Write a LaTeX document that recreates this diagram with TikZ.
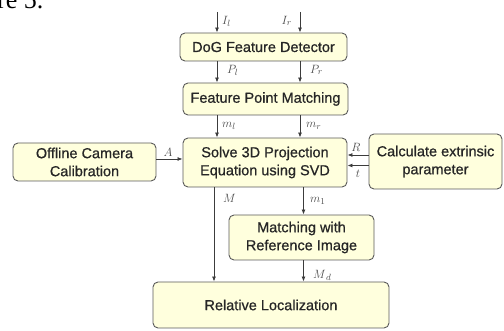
\documentclass[tikz,border=0pt]{standalone}
\usepackage{fontspec}
\setmainfont{Liberation Sans}[FakeBold=0.7]
\newfontfamily\capfont{Liberation Serif}
\usetikzlibrary{arrows.meta,calc}
\definecolor{boxfill}{RGB}{255,255,221}
\definecolor{boxline}{RGB}{90,90,90}
\definecolor{arrline}{RGB}{60,60,60}
\tikzset{
  blk/.style={draw=boxline, line width=0.9pt, fill=boxfill, rounded corners=5pt,
    align=center, font=\fontsize{14.5}{18}\selectfont, inner sep=0pt, text=black!85},
  arr/.style={draw=arrline, line width=0.8pt, -{Latex[length=5pt,width=4pt]}},
  lab/.style={font=\fontsize{12.5}{14}\selectfont, inner sep=1pt, text=black!70}
}
\begin{document}
\begin{tikzpicture}[x=1pt,y=-1pt]
\useasboundingbox (0,0) rectangle (504,331);
\clip (0,0) rectangle (504,331);
\node[font=\capfont\fontsize{26}{26}\selectfont, anchor=base west, inner sep=0pt] (cap) at (-3,9) {re 5.};

\node[blk, minimum width=167pt, minimum height=28pt] (dog) at (263.5,47) {DoG Feature Detector};
\node[blk, minimum width=165pt, minimum height=32pt] (fpm) at (265.5,99) {Feature Point Matching};
\node[blk, minimum width=164pt, minimum height=49pt] (svd) at (265,162.5) {Solve 3D Projection\\Equation using SVD};
\node[blk, minimum width=143pt, minimum height=38pt] (cal) at (84.5,162) {Offline Camera\\Calibration};
\node[blk, minimum width=133pt, minimum height=55pt] (ext) at (435.5,161.5) {Calculate extrinsic\\parameter};
\node[blk, minimum width=145pt, minimum height=45pt] (ref) at (301.5,237.5) {Matching with\\Reference Image};
\node[blk, minimum width=236pt, minimum height=46pt] (loc) at (271,305) {Relative Localization};

\coordinate (il) at (217,12);
\coordinate (ir) at (300,12);
\coordinate (xm) at (214,0);
\coordinate (xs) at (303.5,0);
\coordinate (yA) at (0,159);
\coordinate (yR) at (0,155);
\coordinate (yt) at (0,165.5);

\draw[arr] (il) -- (dog.north -| il);
\draw[arr] (ir) -- (dog.north -| ir);
\draw[arr] (dog.south -| il) -- (fpm.north -| il);
\draw[arr] (dog.south -| ir) -- (fpm.north -| ir);
\draw[arr] (fpm.south -| il) -- (svd.north -| il);
\draw[arr] (fpm.south -| ir) -- (svd.north -| ir);
\draw[arr] (cal.east |- yA) -- (svd.west |- yA);
\draw[arr] (ext.west |- yR) -- (svd.east |- yR);
\draw[arr] (ext.west |- yt) -- (svd.east |- yt);
\draw[arr] (svd.south -| xm) -- (loc.north -| xm);
\draw[arr] (svd.south -| xs) -- (ref.north -| xs);
\draw[arr] (ref.south -| xs) -- (loc.north -| xs);

\node[lab, anchor=west] (lIl) at (221,21) {$I_l$};
\node[lab, anchor=east] (lIr) at (293,21) {$I_r$};
\node[lab, anchor=west] (lPl) at (226,70) {$P_l$};
\node[lab, anchor=west] (lPr) at (309,70) {$P_r$};
\node[lab, anchor=west] (lml) at (221,126) {$m_l$};
\node[lab, anchor=west] (lmr) at (305,126) {$m_r$};
\node[lab, anchor=center] (lA) at (168,152) {$A$};
\node[lab, anchor=center] (lR) at (356,147) {$R$};
\node[lab, anchor=center] (lt) at (358,174) {$t$};
\node[lab, anchor=west] (lM) at (222,198) {$M$};
\node[lab, anchor=west] (lm1) at (309,201) {$m_1$};
\node[lab, anchor=west] (lMd) at (312,275) {$M_{\,d}$};
\end{tikzpicture}
\end{document}
